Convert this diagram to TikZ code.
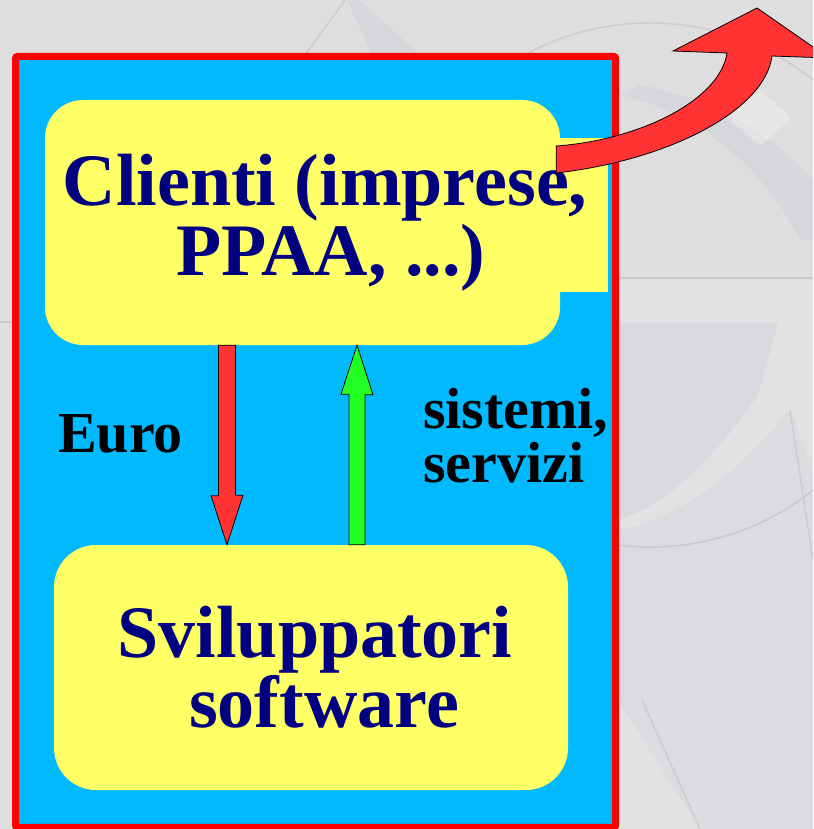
\documentclass[tikz,border=0pt]{standalone}
\usepackage{fontspec}
\setmainfont{Liberation Serif}
\usetikzlibrary{calc}
\definecolor{bg}{HTML}{DEDEDE}
\definecolor{panelblue}{HTML}{00B9FF}
\definecolor{boxy}{HTML}{FFFF66}
\definecolor{navy}{HTML}{000080}
\definecolor{arred}{HTML}{FF3333}
\definecolor{argreen}{HTML}{22FF22}
\definecolor{wmblue}{HTML}{B4BAD2}
\definecolor{wmline}{HTML}{CCCCCC}
\begin{document}
\begin{tikzpicture}[x=1pt,y=-1pt,
  ybox/.style={fill=boxy, draw=none, inner sep=0pt},
  titletext/.style={font=\bfseries\fontsize{74}{70}\selectfont, text=navy, align=center, inner sep=0pt},
  labtext/.style={font=\bfseries\fontsize{58}{54}\selectfont, text=black, align=left, inner sep=0pt},
  blockarrow/.style={draw=black, line width=0.8pt, line join=miter},
  wmstroke/.style={draw=wmline, line width=1.4pt},
]
\useasboundingbox (0,0) rectangle (813,829);
\clip (0,0) rectangle (813,829);
% background
\fill[bg] (0,0) rectangle (813,829);
% faint watermark
\fill[white, opacity=0.15] (618,280) rectangle (813,829);
\draw[wmstroke] (650,285) circle (262);
\fill[wmblue, opacity=0.22] (618,323) -- (778,323) -- (758,395) .. controls (720,450) and (670,505) .. (618,520) -- cycle;
\fill[wmblue, opacity=0.15] (618,530) .. controls (680,520) and (740,470) .. (790,410) -- (813,470) -- (813,829) -- (700,829) -- (618,700) -- cycle;
\draw[wmstroke] (790,410) -- (813,560);
\draw[wmstroke] (642,700) -- (700,829);
\draw[wmstroke] (618,278) -- (813,278);
\draw[wmstroke] (0,322) -- (14,322);
\fill[wmblue, opacity=0.18] (347,0) -- (372,55) -- (420,55) -- (360,0) -- cycle;
\draw[wmstroke] (345,0) -- (305,55);
\fill[wmblue, opacity=0.18] (620,95) .. controls (690,110) and (760,160) .. (800,240) -- (813,240) -- (813,180) .. controls (770,130) and (700,95) .. (640,85) -- cycle;
\fill[white, opacity=0.3] (760,90) -- (792,118) -- (760,146) -- (728,118) -- cycle;
% panel
\node[draw=red, line width=7pt, fill=panelblue, rounded corners=2pt, minimum width=600, minimum height=771, inner sep=0pt] (panel) at (315.6,441.9) {};
% yellow boxes
\fill[boxy] (540,138) rectangle (608,292);
\node[ybox, rounded corners=38pt, minimum width=515, minimum height=245] (top) at (302.5,222.5) {};
\node[ybox, rounded corners=42pt, minimum width=514, minimum height=245] (bot) at (311,667.5) {};
% texts
\node[titletext, anchor=base] (toptext) at (331,275) {Clienti (imprese,\rule{12pt}{0pt}\\PPAA, ...)};
\node[titletext, anchor=base] (bottext) at (324,727) {Sviluppatori\rule{18pt}{0pt}\\software};
\node[labtext, anchor=base west] (euro) at (58,452) {Euro};
\node[labtext, anchor=base west] (sist) at (423,482) {sistemi,\\servizi};
% arrows between boxes
\coordinate (rx) at (227,0);
\coordinate (gx) at (357,0);
\filldraw[blockarrow, fill=arred] ($(top.south -| rx)+(-8.5,0)$) -- ++(17,0) -- ++(0,150) -- ++(7.5,0) -- (bot.north -| rx) -- ++(-16,-49) -- ++(7.5,0) -- cycle;
\filldraw[blockarrow, fill=argreen] ($(bot.north -| gx)+(-8,0)$) -- ++(16,0) -- ++(0,-150) -- ++(8,0) -- (top.south -| gx) -- ++(-16,49) -- ++(8,0) -- cycle;
% curved arrow out
\coordinate (out) at (757,8);
\filldraw[blockarrow, fill=arred] ($(top.east)+(-4,-76.5)$) .. controls (640,140) and (720,100) .. (727,53) -- (673,51) -- (out) -- (829,58) -- (772,56) .. controls (765,110) and (670,160) .. ($(top.east)+(-4,-49.5)$) -- cycle;
\end{tikzpicture}
\end{document}
